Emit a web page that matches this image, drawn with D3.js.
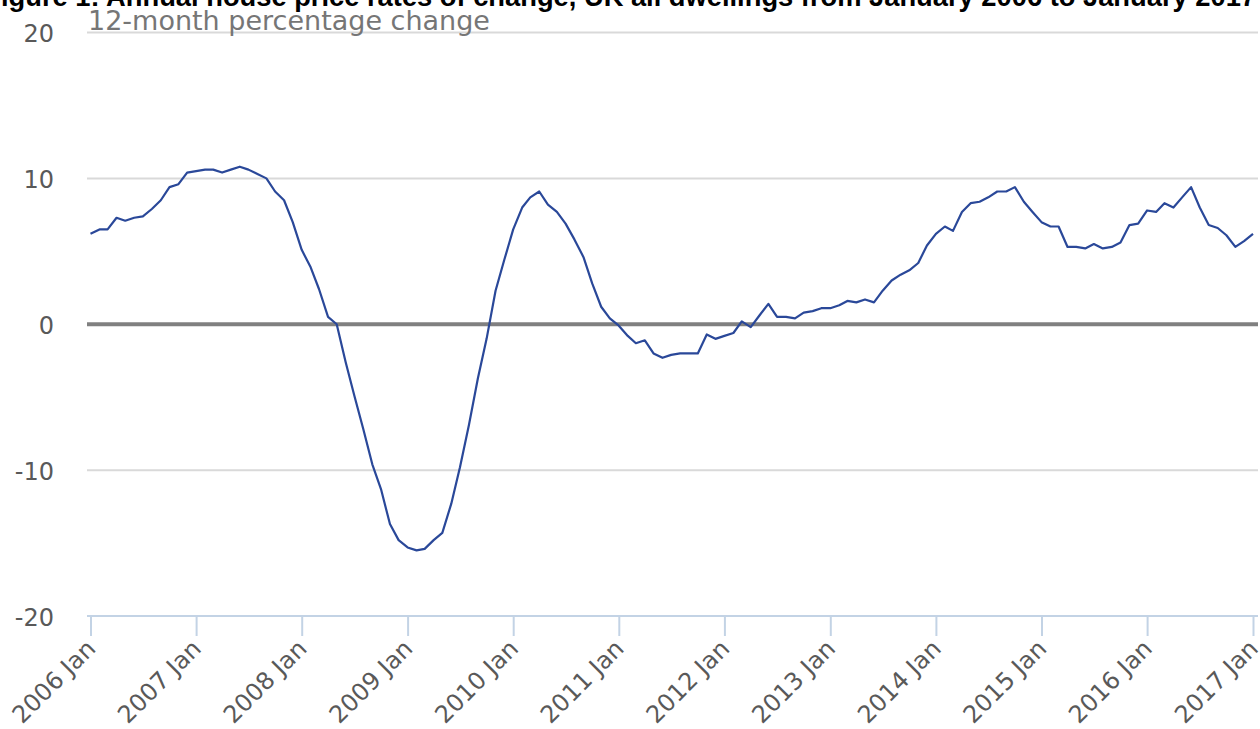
<!DOCTYPE html>
<html>
<head>
<meta charset="utf-8">
<script src="https://cdn.jsdelivr.net/npm/d3@7"></script>
<style>
  html, body { margin: 0; padding: 0; background: #ffffff; }
  svg { display: block; }
</style>
</head>
<body>
<svg id="chart" width="1260" height="729"></svg>
<script>
const titleText = "Figure 1: Annual house price rates of change, UK all dwellings from January 2006 to January 2017";
const subtitleText = "12-month percentage change";
const startMonth = "2006-01";
const values = [
  6.2, 6.5, 6.5, 7.3, 7.1, 7.3, 7.4, 7.9, 8.5, 9.4, 9.6, 10.4,
  10.5, 10.6, 10.6, 10.4, 10.6, 10.8, 10.6, 10.3, 10.0, 9.1, 8.5, 7.0,
  5.1, 3.9, 2.4, 0.5, 0.0, -2.6, -4.9, -7.2, -9.6, -11.3, -13.7, -14.8,
  -15.3, -15.5, -15.4, -14.8, -14.3, -12.3, -9.8, -6.9, -3.7, -1.0, 2.3, 4.4,
  6.5, 8.0, 8.7, 9.1, 8.2, 7.7, 6.9, 5.8, 4.6, 2.8, 1.2, 0.4,
  -0.1, -0.8, -1.3, -1.1, -2.0, -2.3, -2.1, -2.0, -2.0, -2.0, -0.7, -1.0,
  -0.8, -0.6, 0.2, -0.2, 0.6, 1.4, 0.5, 0.5, 0.4, 0.8, 0.9, 1.1,
  1.1, 1.3, 1.6, 1.5, 1.7, 1.5, 2.3, 3.0, 3.4, 3.7, 4.2, 5.4,
  6.2, 6.7, 6.4, 7.7, 8.3, 8.4, 8.7, 9.1, 9.1, 9.4, 8.4, 7.7,
  7.0, 6.7, 6.7, 5.3, 5.3, 5.2, 5.5, 5.2, 5.3, 5.6, 6.8, 6.9,
  7.8, 7.7, 8.3, 8.0, 8.7, 9.4, 8.0, 6.8, 6.6, 6.1, 5.3, 5.7,
  6.2
];
const yTicks = [-20, -10, 0, 10, 20];
const yTickLabels = ["-20", "-10", "0", "10", "20"];
const xTickLabels = ["2006 Jan", "2007 Jan", "2008 Jan", "2009 Jan", "2010 Jan", "2011 Jan",
                     "2012 Jan", "2013 Jan", "2014 Jan", "2015 Jan", "2016 Jan", "2017 Jan"];

const parseMonth = d3.timeParse("%Y-%m");
const start = parseMonth(startMonth);
const data = values.map((v, i) => ({ date: d3.timeMonth.offset(start, i), value: v }));
const xTickDates = xTickLabels.map((l, i) => d3.timeYear.offset(start, i));

const svg = d3.select("#chart");
const x = d3.scaleTime().domain([data[0].date, data[data.length - 1].date]).range([90.5, 1253]);
const y = d3.scaleLinear().domain([-20, 20]).range([616, 32.5]);
const gridX0 = 87, gridX1 = 1258;

// gridlines
svg.append("g").selectAll("line").data(yTicks.filter(t => t !== 0 && t !== -20)).join("line")
  .attr("x1", gridX0).attr("x2", gridX1)
  .attr("y1", d => y(d)).attr("y2", d => y(d))
  .attr("stroke", "#d9d9d9").attr("stroke-width", 2);

// y labels
const yAxis = svg.append("g").attr("transform", "translate(54,0)")
  .call(d3.axisLeft(y).tickValues(yTicks).tickSize(0).tickPadding(0)
    .tickFormat((d, i) => yTickLabels[i]));
yAxis.select(".domain").remove();
yAxis.selectAll("text")
  .attr("font-family", "DejaVu Sans").attr("font-size", 24).attr("fill", "#595959")
  .attr("dy", "0.38em");

// x axis
const xAxis = svg.append("g").attr("transform", `translate(0,${y(-20)})`)
  .call(d3.axisBottom(x).tickValues(xTickDates).tickSize(20).tickSizeOuter(0)
    .tickFormat((d, i) => xTickLabels[i]));
xAxis.select(".domain").attr("d", `M${gridX0},0H${gridX1}`)
  .attr("stroke", "#c3d3e5").attr("stroke-width", 2);
xAxis.selectAll(".tick line").attr("stroke", "#c3d3e5").attr("stroke-width", 2);
xAxis.selectAll(".tick text")
  .attr("font-family", "DejaVu Sans").attr("font-size", 24).attr("fill", "#595959")
  .attr("text-anchor", "end")
  .attr("y", 0).attr("dy", 0)
  .attr("transform", "translate(6,34) rotate(-45)");

// zero line
svg.append("line")
  .attr("x1", gridX0).attr("x2", gridX1)
  .attr("y1", y(0)).attr("y2", y(0))
  .attr("stroke", "#808080").attr("stroke-width", 4);

// data line
const line = d3.line().x(d => x(d.date)).y(d => y(d.value));
svg.append("path").datum(data)
  .attr("d", line)
  .attr("fill", "none")
  .attr("stroke", "#2a4899")
  .attr("stroke-width", 2.2)
  .attr("stroke-linejoin", "round");

// title and subtitle
svg.append("text").text(titleText)
  .attr("x", 1256).attr("y", 6)
  .attr("text-anchor", "end")
  .attr("font-family", "Liberation Sans").attr("font-weight", "bold")
  .attr("font-size", 27.3).attr("fill", "#000");

svg.append("text").text(subtitleText)
  .attr("x", 88).attr("y", 30)
  .attr("font-family", "DejaVu Sans")
  .attr("font-size", 27).attr("fill", "#767676");
</script>
</body>
</html>
